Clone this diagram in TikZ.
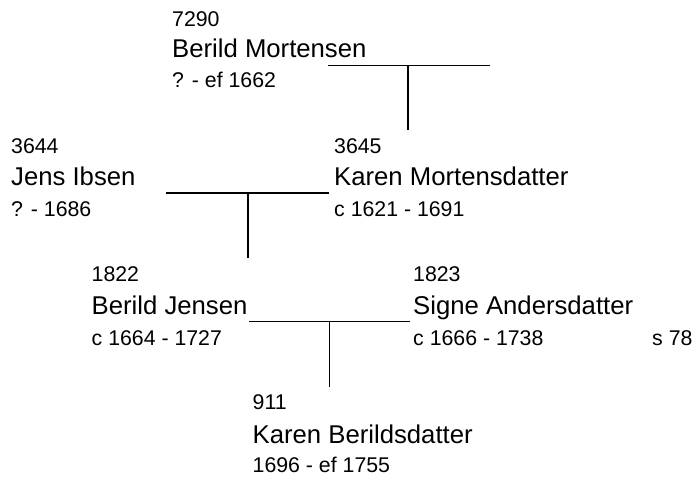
\documentclass[tikz,border=0pt]{standalone}
\usepackage{fontspec}
\setmainfont{Liberation Sans}
\begin{document}
\begin{tikzpicture}[x=1pt,y=-1pt,
  num/.style={anchor=base west,inner sep=0pt,font=\fontsize{21.3}{25}\selectfont},
  nm/.style={anchor=base west,inner sep=0pt,font=\fontsize{25.7}{30}\selectfont},
  bar/.style={line width=1.7pt}]
\useasboundingbox (0,0) rectangle (698,479);
% 7290
\node[num] (n7290) at (172,26) {7290};
\node[nm]  (p7290) at (172,57.5) {Berild Mortensen};
\node[num] (d7290) at (172,87.5) {? - ef 1662};
% 3644
\node[num] (n3644) at (11,153.5) {3644};
\node[nm]  (p3644) at (11,185.5) {Jens Ibsen};
\node[num] (d3644) at (11,216) {? - 1686};
% 3645
\node[num] (n3645) at (334,153.5) {3645};
\node[nm]  (p3645) at (334,185.5) {Karen Mortensdatter};
\node[num] (d3645) at (334,216) {c 1621 - 1691};
% 1822
\node[num] (n1822) at (91.5,281) {1822};
\node[nm]  (p1822) at (91.5,314.5) {Berild Jensen};
\node[num] (d1822) at (91.5,345) {c 1664 - 1727};
% 1823
\node[num] (n1823) at (413,281) {1823};
\node[nm]  (p1823) at (413,314.5) {Signe Andersdatter};
\node[num] (d1823) at (413,345) {c 1666 - 1738};
\node[num] (s1823) at (652,345) {s 78};
% 911
\node[num] (n911) at (252.5,409) {911};
\node[nm]  (p911) at (252.5,443.5) {Karen Berildsdatter};
\node[num] (d911) at (252.5,472) {1696 - ef 1755};
% connectors
\coordinate (a1) at (328,65.5);
\coordinate (a2) at (490,65.5);
\coordinate (a3) at (408,65.5);
\coordinate (a4) at (408,130);
\draw[bar] (a1) -- (a2);
\draw[bar] (a3) -- (a4);
\coordinate (b1) at (166,193);
\coordinate (b2) at (329,193);
\coordinate (b3) at (248,193);
\coordinate (b4) at (248,258);
\draw[bar] (b1) -- (b2);
\draw[bar] (b3) -- (b4);
\coordinate (c1) at (249,321.5);
\coordinate (c2) at (410,321.5);
\coordinate (c3) at (329.5,321.5);
\coordinate (c4) at (329.5,387);
\draw[bar] (c1) -- (c2);
\draw[bar] (c3) -- (c4);
\end{tikzpicture}
\end{document}
